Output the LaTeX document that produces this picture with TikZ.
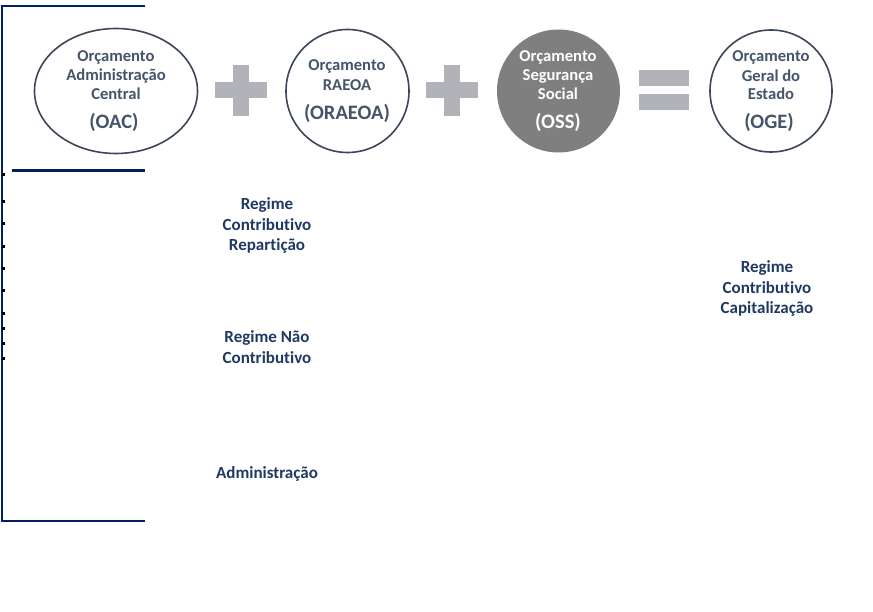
\documentclass[tikz,border=0pt]{standalone}
\usepackage{fontspec}
\setmainfont[Ligatures=NoCommon]{Carlito}
\definecolor{navy}{HTML}{1F3864}
\definecolor{framec}{HTML}{002060}
\definecolor{slate}{HTML}{44546A}
\definecolor{ringc}{HTML}{3B4658}
\definecolor{opc}{HTML}{B1B3B9}
\definecolor{ossfill}{HTML}{7F7F7F}
\begin{document}
\begin{tikzpicture}[x=1pt,y=-1pt,
  ring/.style={draw=ringc,line width=1.6pt},
  ctext/.style={text=slate,font=\bfseries\fontsize{16.6}{18}\selectfont,inner sep=0pt,anchor=center},
  abbr/.style={text=slate,font=\bfseries\fontsize{20.5}{22}\selectfont,inner sep=0pt,anchor=center},
  lab/.style={text=navy,font=\bfseries\fontsize{17}{20.3}\selectfont,align=center,inner sep=0pt,anchor=center},
  opbar/.style={fill=opc,draw=none},
  bul/.style={fill=black,draw=none},
  framel/.style={draw=framec,line width=1.2pt}]
\useasboundingbox (0,0) rectangle (873,612);
% left frame
\coordinate (ft) at (145,6);
\coordinate (fc) at (2,6);
\coordinate (fb) at (2,521);
\coordinate (fe) at (145,521);
\draw[framel] (ft) -- (fc) -- (fb) -- (fe);
\coordinate (tl) at (12,171);
\coordinate (tr) at (145,171);
\draw[draw=framec,line width=3pt] (tl) -- (tr);
% bullets
\foreach \y in {174.5,202,223.5,247,268.5,290.5,313.5,328.5,343.5,358.5}
  \fill[bul] (1.5,\y-1.5) rectangle (4.5,\y+1.5);
% circles
\draw[ring] (116,91) ellipse [x radius=81.5, y radius=62.5];
\node (oac) at (116,91) {};
\draw[ring] (347.5,91) circle [radius=61.5];
\node (oraeoa) at (347.5,91) {};
\fill[ossfill] (558.5,91) circle [radius=61.5];
\node (oss) at (558.5,91) {};
\draw[ring] (771,91) circle [radius=61];
\node (oge) at (771,91) {};
% texts in circles
\node[ctext] (t1a) at (116,57) {Orçamento};
\node[ctext] (t1b) at (116,76) {Administração};
\node[ctext] (t1c) at (116,94) {Central};
\node[abbr] (t1d) at (114,122.5) {(OAC)};
\node[ctext] (t2a) at (347,66) {Orçamento};
\node[ctext] (t2b) at (347,85) {RAEOA};
\node[abbr] (t2c) at (347,113) {(ORAEOA)};
\node[ctext,text=white] (t3a) at (558,57) {Orçamento};
\node[ctext,text=white] (t3b) at (558,76) {Segurança};
\node[ctext,text=white] (t3c) at (558,94) {Social};
\node[abbr,text=white] (t3d) at (558,122.5) {(OSS)};
\node[ctext] (t4a) at (771,57) {Orçamento};
\node[ctext] (t4b) at (771,76) {Geral do};
\node[ctext] (t4c) at (771,94) {Estado};
\node[abbr] (t4d) at (769,122) {(OGE)};
% operators
\fill[opbar] (215,82.5) rectangle (267,98.5);
\fill[opbar] (233,65) rectangle (249,116);
\fill[opbar] (426,82.5) rectangle (478,98.5);
\fill[opbar] (444,65) rectangle (460,116);
\fill[opbar] (639,70) rectangle (689,86);
\fill[opbar] (639,94) rectangle (689,110.5);
% lower labels
\node[lab] (rcr) at (267,225.5) {Regime\\Contributivo\\Repartição};
\node[lab] (rnc) at (267,347) {Regime Não\\Contributivo};
\node[lab] (adm) at (267,473.5) {Administração};
\node[lab] (rcc) at (767,288.5) {Regime\\Contributivo\\Capitalização};
\node[lab,text=white] (inss) at (438,286) {INSS};
\node[lab,text=white] (frss) at (602,286) {FRSS};
\end{tikzpicture}
\end{document}
